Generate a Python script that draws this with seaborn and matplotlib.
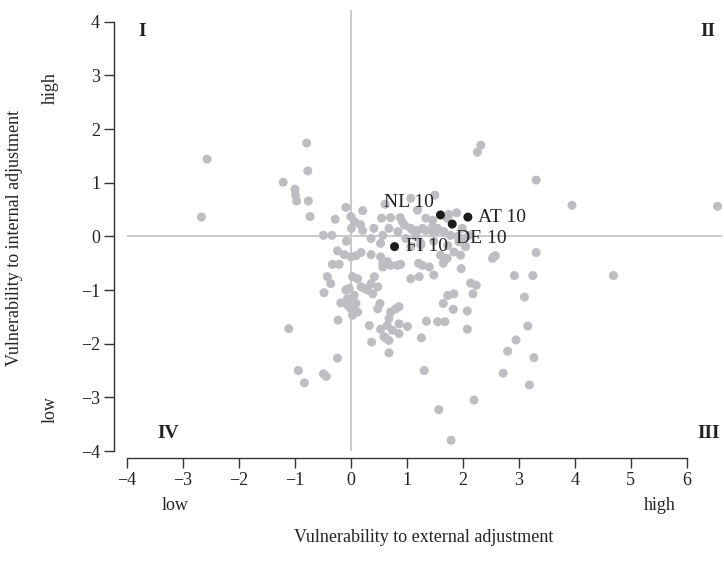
import matplotlib
matplotlib.use("Agg")
import matplotlib.pyplot as plt
import seaborn as sns
import pandas as pd

# ---- data -------------------------------------------------------------
other_x = [-0.79, -2.57, -0.77, -1.21, -1.00, -0.99, -0.97, -0.76, -2.67, -0.73,
           -0.09, 0.21, -0.28, 0.00, 0.07, 0.17, 0.21, 0.01, -0.49, -0.34,
           -0.08, -0.24, -0.12, 0.00, 0.09, 0.18, 0.36, -0.33, -0.21, -0.42,
           -0.36, -0.48, 0.03, 0.12, -0.03, 0.18, 0.30, 0.36, 0.42, 0.39,
           0.48, 0.57, 0.71, -0.06, 0.03, 0.09, 0.00, 0.12, 0.03, -0.18,
           -0.06, 0.52, 0.48, 0.71, 0.80, 0.68, 0.65, 0.53, 0.74, 0.86,
           0.86, 0.33, -0.23, -1.11, 0.59, 0.68, 0.37, 0.68, -0.24, -0.94,
           -0.83, -0.49, -0.44, 1.01, 1.26, 1.35, 1.31, 1.57, 1.79, 2.20,
           1.55, 1.68, 1.65, 1.73, 1.84, 1.83, 2.08, 2.08, 2.18, 2.14,
           2.24, 3.10, 3.16, 2.95, 2.80, 3.27, 2.72, 3.19, 2.92, 3.25,
           3.31, 4.69, 3.95, 6.55, 3.31, 2.32, 2.26, 1.50, 0.61, 1.07,
           0.55, 0.71, 0.88, 0.96, 1.19, 1.75, 1.89, 1.72, 1.99, 1.93,
           2.05, 2.11, 2.55, 2.53, 2.58, 0.53, 0.57, 0.65, 0.89, 0.83,
           1.07, 1.25, 1.21, 1.28, 1.40, 1.48, 1.65, 1.97, 1.60, 1.72,
           1.84, 1.96, 1.07, 1.22, 0.86, -0.09, 0.06, 0.24, 0.62, 0.41,
           0.57, 0.68, 0.84, 1.07, 1.19, 1.34, 1.46, 1.55, 1.66, 1.78,
           1.91, 2.01, 1.25, 1.48, 1.73, 0.53, 0.36, 0.98, 1.16, 1.46,
           1.34, 0.92, 1.10, 1.28, 1.46, 1.52]
other_y = [1.74, 1.44, 1.22, 1.01, 0.88, 0.77, 0.66, 0.66, 0.36, 0.37,
           0.54, 0.48, 0.32, 0.37, 0.27, 0.22, 0.11, 0.15, 0.02, 0.02,
           -0.09, -0.27, -0.34, -0.38, -0.36, -0.30, -0.34, -0.52, -0.52, -0.75,
           -0.88, -1.05, -0.75, -0.79, -0.97, -0.94, -1.00, -0.88, -0.75, -1.07,
           -0.94, -0.57, -0.54, -1.16, -1.19, -1.25, -1.35, -1.41, -1.47, -1.24,
           -1.28, -1.25, -1.35, -1.41, -1.35, -1.53, -1.66, -1.73, -1.75, -1.63,
           -1.81, -1.66, -1.56, -1.72, -1.87, -1.94, -1.97, -2.17, -2.27, -2.50,
           -2.73, -2.56, -2.61, -1.68, -1.89, -1.58, -2.50, -3.23, -3.80, -3.05,
           -1.59, -1.59, -1.25, -1.10, -1.07, -1.36, -1.39, -1.73, -1.07, -0.87,
           -0.91, -1.13, -1.67, -1.93, -2.14, -2.26, -2.55, -2.77, -0.73, -0.73,
           -0.30, -0.73, 0.58, 0.56, 1.05, 1.70, 1.57, 0.77, 0.60, 0.71,
           0.34, 0.35, 0.35, 0.21, 0.49, 0.41, 0.44, 0.34, 0.15, -0.10,
           -0.19, 0.02, -0.38, -0.41, -0.36, -0.38, -0.50, -0.47, -0.52, -0.54,
           -0.19, -0.16, -0.50, -0.54, -0.57, -0.72, -0.50, -0.60, -0.35, -0.41,
           -0.29, -0.35, -0.79, -0.75, -1.31, -1.00, -1.10, -0.97, -1.89, 0.15,
           0.02, 0.15, 0.09, 0.15, 0.11, 0.11, 0.09, 0.15, 0.09, 0.02,
           0.00, -0.04, -0.13, -0.09, -0.17, -0.13, -0.04, -0.04, 0.00, 0.30,
           0.34, 0.27, 0.12, 0.15, 0.18, 0.09]

hl_labels = ["NL 10", "AT 10", "DE 10", "FI 10"]
hl_x = [1.60, 2.09, 1.81, 0.78]
hl_y = [0.40, 0.36, 0.23, -0.19]

x_ticks = [-4, -3, -2, -1, 0, 1, 2, 3, 4, 5, 6]
y_ticks = [-4, -3, -2, -1, 0, 1, 2, 3, 4]
quadrants = ["I", "II", "III", "IV"]

# ---- plot -------------------------------------------------------------
sns.set_theme(style="ticks")
plt.rcParams["font.family"] = ["Liberation Serif", "DejaVu Serif"]
plt.rcParams["axes.unicode_minus"] = True

fig = plt.figure(figsize=(7.24, 5.76), dpi=100)
ax = fig.add_axes([127 / 724, 1 - 451 / 576, (722 - 127) / 724, (451 - 10) / 576])

ax.axhline(0, color="#c9c9cc", lw=1.4, zorder=0)
ax.axvline(0, color="#c9c9cc", lw=1.4, zorder=0)

df_o = pd.DataFrame({"x": other_x, "y": other_y})
df_h = pd.DataFrame({"x": hl_x, "y": hl_y, "label": hl_labels})

sns.scatterplot(data=df_o, x="x", y="y", ax=ax, color="#bdbdc2", s=42,
                edgecolor="none", linewidth=0, zorder=2, clip_on=False)
sns.scatterplot(data=df_h, x="x", y="y", ax=ax, color="#1c1c1c", s=42,
                edgecolor="none", linewidth=0, zorder=3)

offsets = {"NL 10": (-41, 9, "left"), "AT 10": (7, -0.5, "left"),
           "DE 10": (3, -10.5, "left"), "FI 10": (8, 0, "left")}
for lab, x, y in zip(hl_labels, hl_x, hl_y):
    dx, dy, ha = offsets[lab]
    ax.annotate(lab, (x, y), xytext=(dx, dy), textcoords="offset points",
                ha=ha, va="center", fontsize=14, color="#222222")

ax.set_xlim(-4.0, 6.63)
ax.set_ylim(-4.0, 4.22)
ax.set_xticks(x_ticks)
ax.set_yticks(y_ticks)
ax.set_xticklabels([f"{t}".replace("-", "\u2212") for t in x_ticks])
ax.set_yticklabels([f"{t}".replace("-", "\u2212") for t in y_ticks])
ax.tick_params(axis="both", direction="out", length=7, width=1.0,
               colors="#333333", labelsize=13, labelcolor="#222222", pad=3)
for sp in ["left", "bottom"]:
    ax.spines[sp].set_color("#333333")
    ax.spines[sp].set_linewidth(1.0)
sns.despine(ax=ax, offset={"left": 9.4, "bottom": 5}, trim=True)
ax.set_xlabel("")
ax.set_ylabel("")

# quadrant labels
qkw = dict(fontsize=14, fontweight="bold", color="#222222", va="center")
fig.text(142 / 724, 1 - 32 / 576, quadrants[0], ha="center", **qkw)
fig.text(708 / 724, 1 - 32 / 576, quadrants[1], ha="center", **qkw)
fig.text(709 / 724, 1 - 433 / 576, quadrants[2], ha="center", **qkw)
fig.text(168 / 724, 1 - 433 / 576, quadrants[3], ha="center", **qkw)

# axis labels
tkw = dict(fontsize=13, color="#222222")
fig.text(424 / 724, 1 - 537 / 576, "Vulnerability to external adjustment",
         ha="center", va="center", **tkw)
fig.text(15 / 724, 1 - 238 / 576, "Vulnerability to internal adjustment",
         ha="center", va="center", rotation=90, **tkw)
fig.text(175 / 724, 1 - 505 / 576, "low", ha="center", va="center", **tkw)
fig.text(660 / 724, 1 - 505 / 576, "high", ha="center", va="center", **tkw)
fig.text(50 / 724, 1 - 88 / 576, "high", ha="center", va="center", rotation=90, **tkw)
fig.text(50 / 724, 1 - 410 / 576, "low", ha="center", va="center", rotation=90, **tkw)

fig.savefig("out.png", dpi=100)
